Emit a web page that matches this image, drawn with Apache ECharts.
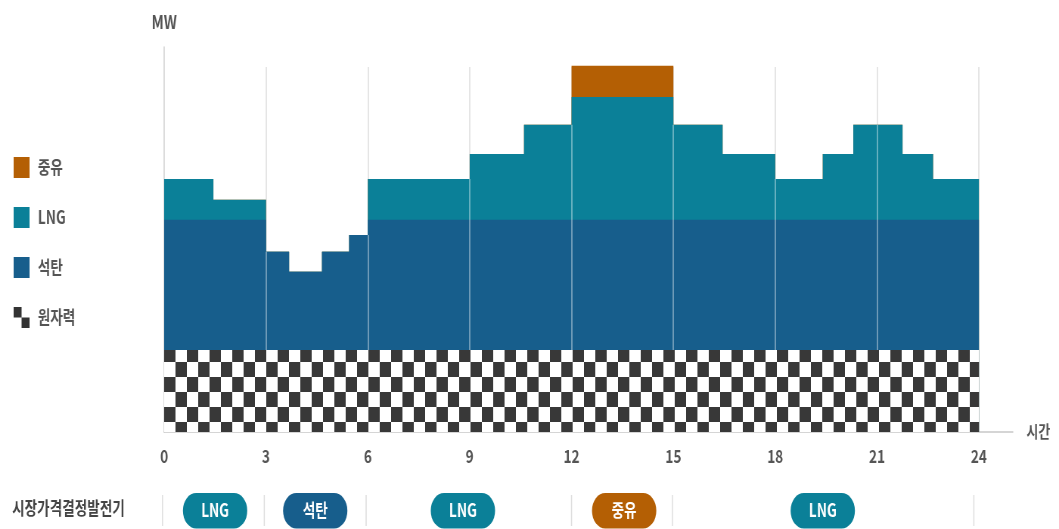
<!DOCTYPE html>
<html><head><meta charset="utf-8">
<script src="https://cdn.jsdelivr.net/npm/echarts@6/dist/echarts.min.js"></script>
<style>
html,body{margin:0;padding:0;background:#fff;overflow:hidden;}
#wrap{width:1059px;height:529px;overflow:hidden;}
#c{width:1400px;height:529px;transform:scaleX(0.75643);transform-origin:0 0;}
</style></head>
<body><div id="wrap"><div id="c"></div></div>
<script>
// ---- data ----
const hours   = [0, 1.45, 3, 3.68, 4.65, 5.45, 6, 9, 10.6, 12, 15, 16.45, 18, 19.4, 20.3, 21.75, 22.65, 24];
const nuclear = [21.3,21.3,21.3,21.3,21.3,21.3,21.3,21.3,21.3,21.3,21.3,21.3,21.3,21.3,21.3,21.3,21.3];
const coal    = [33.8,33.8,25.5,20.3,25.5,29.9,33.8,33.8,33.8,33.8,33.8,33.8,33.8,33.8,33.8,33.8,33.8];
const lng     = [10.6,5.2,0,0,0,0,10.6,17.1,24.7,31.9,24.7,17.1,10.6,17.1,24.7,17.1,10.6];
const oil     = [0,0,0,0,0,0,0,0,0,8.1,0,0,0,0,0,0,0];
const xTicks  = [0, 3, 6, 9, 12, 15, 18, 21, 24];
const legendNames = ['중유', 'LNG', '석탄', '원자력'];
const pillLabels = ['LNG', '석탄', 'LNG', '중유', 'LNG'];
const pillHours  = [1.5, 4.45, 8.8, 13.55, 19.4];
const sepHours   = [-0.05, 2.95, 5.95, 12, 14.97, 23.85];
const rowTitle = '시장가격결정발전기';

const C = {oil:'#b45f04', lng:'#0b8098', coal:'#175e8c', nuc:'#383838'};
const pillColor = {'LNG':C.lng, '석탄':C.coal, '중유':C.oil};
const FONT = '"Noto Sans CJK KR","Noto Sans",sans-serif';

// checker pattern
const pc = document.createElement('canvas');
pc.width = 30; pc.height = 30;
const g = pc.getContext('2d');
g.fillStyle = '#fff'; g.fillRect(0,0,30,30);
g.fillStyle = C.nuc;
for (let i=-2;i<=2;i++) for (let j=-2;j<=2;j++) {
  if (((i+j)%2+2)%2===0) g.fillRect(7+15*i, 17+15*j, 15, 15);
}

function cumData(layers){
  const tot = hours.slice(0,-1).map((h,i)=>layers.reduce((s,a)=>s+a[i],0));
  const d = tot.map((v,i)=>[hours[i], v]);
  d.push([hours[hours.length-1], tot[tot.length-1]]);
  return {d, tot};
}
const sNuc = cumData([nuclear]);
const sCoal = cumData([nuclear, coal]);
const sLng = cumData([nuclear, coal, lng]);
const sOil = cumData([nuclear, coal, lng, oil]);

const gridTopVal = 94.8;
function topAt(h){
  let m = Infinity;
  for (let i=0;i<hours.length-1;i++){
    if (hours[i] <= h && hours[i+1] >= h) m = Math.min(m, sOil.tot[i]);
  }
  return m;
}
const backLines = xTicks.filter(t=>t>0).map(t=>[{coord:[t,0]},{coord:[t,gridTopVal]}]);
const frontLines = xTicks.filter(t=>t>0 && t<24).map(t=>[{coord:[t,nuclear[0]]},{coord:[t,topAt(t)]}]);

function area(name, data, color, fill, z){
  return {name, type:'line', step:'end', data, z, symbol:'none', showSymbol:false,
    lineStyle:{width:0, opacity:0}, itemStyle:{color}, areaStyle:{color:fill, opacity:1},
    emphasis:{disabled:true}, silent:true, animation:false};
}

const chart = echarts.init(document.getElementById('c'), null, {renderer:'canvas'});
chart.setOption({
  animation:false,
  textStyle:{fontFamily:FONT},
  grid:{left:217, right:61, top:47, bottom:97, containLabel:false},
  xAxis:{type:'value', min:0, max:25, interval:3,
    name:'시간', nameLocation:'end', nameGap:18,
    nameTextStyle:{fontSize:17, fontWeight:'bold', color:'#555', fontFamily:FONT, verticalAlign:'middle', padding:[6,0,0,0]},
    axisLine:{show:true, lineStyle:{color:'#c8c8c8', width:1.5}},
    axisTick:{show:false}, splitLine:{show:false},
    axisLabel:{fontSize:18, fontWeight:'bold', color:'#555', margin:15, showMaxLabel:false, fontFamily:FONT}},
  yAxis:{type:'value', min:0, max:100, name:'MW', nameLocation:'end', nameGap:16,
    nameTextStyle:{fontSize:19, fontWeight:'bold', color:'#555', fontFamily:FONT, align:'center'},
    axisLine:{show:true, lineStyle:{color:'#d0d0d0', width:1.5}},
    axisTick:{show:false}, axisLabel:{show:false}, splitLine:{show:false}},
  legend:{orient:'vertical', left:13, top:152, itemWidth:21, itemHeight:21, itemGap:29,
    selectedMode:false, itemStyle:{borderWidth:0},
    textStyle:{fontSize:18, fontWeight:'bold', color:'#555', fontFamily:FONT, padding:[0,0,0,6]},
    data:[
      {name:'중유', icon:'rect', itemStyle:{color:C.oil}},
      {name:'LNG', icon:'rect', itemStyle:{color:C.lng}},
      {name:'석탄', icon:'rect', itemStyle:{color:C.coal}},
      {name:'원자력', icon:'path://M0,0H1V1H0Z M1,1H2V2H1Z', itemStyle:{color:'#333'}}
    ]},
  graphic:[{type:'text', left:16, top:499, silent:true,
    style:{text:rowTitle, font:'bold 18px '+FONT, fill:'#444'}}],
  series:[
    {type:'line', data:[], silent:true, z:0, markLine:{z:0, silent:true, symbol:'none', label:{show:false},
      lineStyle:{color:'#dcdcdc', width:1.5, type:'solid'}, data:backLines}},
    area('중유', sOil.d, C.oil, C.oil, 1),
    area('LNG', sLng.d, C.lng, C.lng, 2),
    area('석탄', sCoal.d, C.coal, C.coal, 3),
    area('원자력', sNuc.d, C.nuc, {image:pc, repeat:'repeat'}, 4),
    {type:'line', data:[], silent:true, z:5, markLine:{z:10, silent:true, symbol:'none', label:{show:false},
      lineStyle:{color:'rgba(255,255,255,0.5)', width:1.5, type:'solid'}, data:frontLines}},
    {type:'custom', silent:true, clip:false, z:6,
      data: sepHours.map(h=>[h,0]),
      renderItem:(p, api)=>{
        const x = api.coord([api.value(0),0])[0];
        const y0 = api.coord([0,0])[1];
        return {type:'line', shape:{x1:x, y1:y0+63, x2:x, y2:y0+94}, style:{stroke:'#dedede', lineWidth:1.5}};
      }},
    {type:'custom', silent:true, clip:false, z:6,
      data: pillHours.map((h,i)=>[h,i]),
      renderItem:(p, api)=>{
        const x = api.coord([api.value(0),0])[0];
        const cy = api.coord([0,0])[1] + 78.5;
        const lab = pillLabels[api.value(1)];
        return {type:'group', children:[
          {type:'rect', shape:{x:x-42.5, y:cy-17.5, width:85, height:35.5, r:17.5}, style:{fill:pillColor[lab]}},
          {type:'text', style:{text:lab, x:x, y:cy, align:'center', verticalAlign:'middle', fill:'#fff', font:'bold 18px '+FONT}}
        ]};
      }}
  ]
});
</script></body></html>
